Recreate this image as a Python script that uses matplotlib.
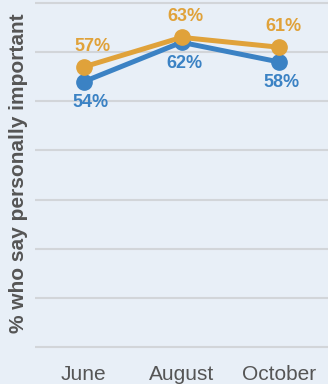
import matplotlib
matplotlib.use("Agg")
import matplotlib.pyplot as plt

plt.rcParams['font.family'] = ['Liberation Sans', 'DejaVu Sans']

# data
months = ["June", "August", "October"]
orange_vals = [57, 63, 61]
blue_vals = [54, 62, 58]

bg = "#e8eff7"
blue = "#3b82c4"
orange = "#e0a23a"
text_gray = "#555555"

fig = plt.figure(figsize=(3.28, 3.84), dpi=100, facecolor=bg)
ax = fig.add_axes([35 / 328, 0.0898, 293 / 328, 0.9088])
ax.set_facecolor(bg)

x = list(range(len(months)))
ax.plot(x, blue_vals, color=blue, lw=3.6, marker="o", ms=11, clip_on=False, zorder=3)
ax.plot(x, orange_vals, color=orange, lw=3.6, marker="o", ms=11, clip_on=False, zorder=4)

# value labels: orange above, blue below
for i, v in enumerate(orange_vals):
    ax.annotate(f"{v}%", (i, v), xytext=(6 if i == 0 else 3, 15), textcoords="offset points",
                ha="center", va="center", color=orange, fontsize=13, fontweight="bold")
for i, v in enumerate(blue_vals):
    ax.annotate(f"{v}%", (i, v), xytext=(5 if i == 0 else 2, -15), textcoords="offset points",
                ha="center", va="center", color=blue, fontsize=13, fontweight="bold")

ax.set_xlim(-0.5, 2.5)
ax.set_ylim(-0.5, 70.5)
ax.set_yticks(range(0, 71, 10))
ax.set_yticklabels([])
ax.grid(axis="y", color="#d2d5d9", lw=1.5)
ax.set_axisbelow(True)
ax.tick_params(length=0)
ax.set_xticks(x)
ax.set_xticklabels(months, fontsize=15, color=text_gray)
ax.tick_params(axis="x", pad=11)
for s in ax.spines.values():
    s.set_visible(False)

fig.text(19 / 328, 1 - 173 / 384, "% who say personally important", rotation=90,
         ha="center", va="center", fontsize=15, fontweight="bold", color=text_gray)

fig.savefig("out.png", dpi=100, facecolor=bg)
